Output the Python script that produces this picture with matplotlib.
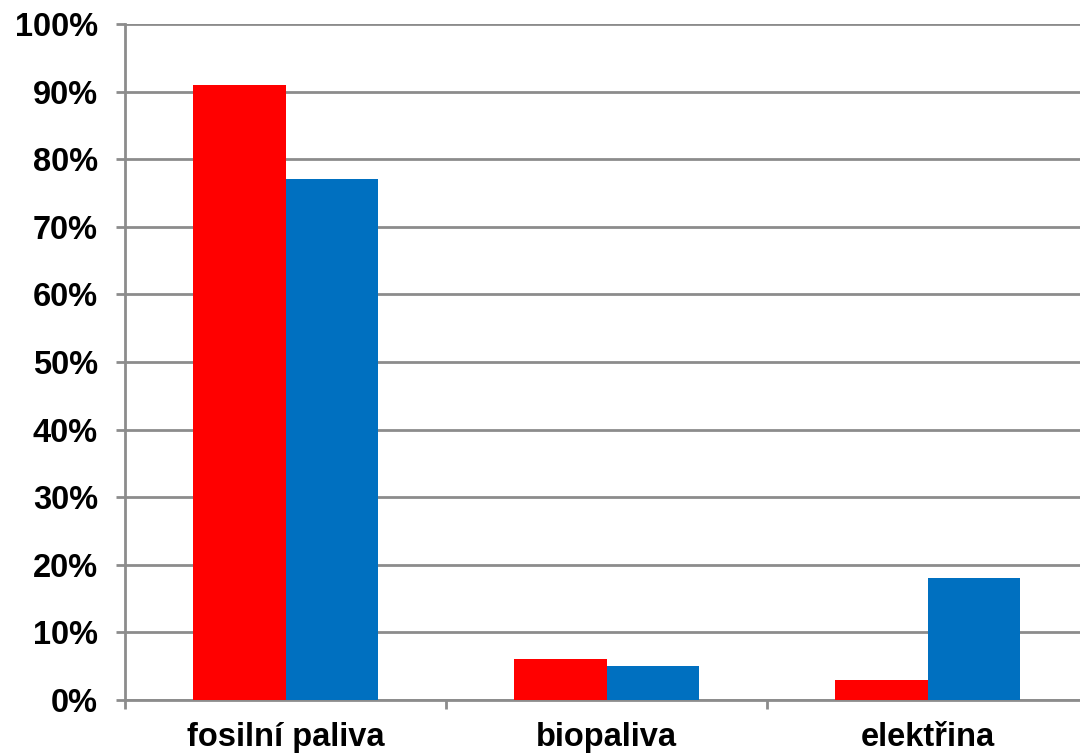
import matplotlib.pyplot as plt
import numpy as np
from matplotlib.ticker import PercentFormatter

categories = ["fosilní paliva", "biopaliva", "elektřina"]
series_red = [91, 6, 3]
series_blue = [77, 5, 18]
yticks = [0, 10, 20, 30, 40, 50, 60, 70, 80, 90, 100]

plt.rcParams["font.family"] = ["Liberation Sans", "DejaVu Sans"]

GRID = "#8c8c8c"

fig = plt.figure(figsize=(10.8, 7.54), dpi=100)
# right edge runs past the figure border like the reference
ax = fig.add_axes([125 / 1080, (754 - 700) / 754, 963 / 1080, 676 / 754])

x = np.arange(len(categories))
width = 0.287
ax.bar(x - width / 2, series_red, width, color="#ff0000", zorder=3)
ax.bar(x + width / 2, series_blue, width, color="#0070c0", zorder=3)

ax.set_xlim(-0.5, len(categories) - 0.5)
ax.set_ylim(0, 100)
ax.set_yticks(yticks)
ax.yaxis.set_major_formatter(PercentFormatter(decimals=0))

ax.set_xticks(x)
ax.set_xticklabels(categories)
ax.set_xticks(np.arange(len(categories) + 1) - 0.5, minor=True)

ax.grid(axis="y", color=GRID, linewidth=2, zorder=0)
for side in ["top", "right"]:
    ax.spines[side].set_visible(False)
for side in ["left", "bottom"]:
    ax.spines[side].set_color(GRID)
    ax.spines[side].set_linewidth(2)

ax.tick_params(axis="y", length=6.5, width=2, color=GRID, pad=13,
               labelsize=23.5)
for lab in ax.get_yticklabels():
    lab.set_fontweight("bold")
ax.tick_params(axis="x", which="major", length=0, pad=16, labelsize=23.5)
ax.tick_params(axis="x", which="minor", length=6.5, width=2, color=GRID)
for lab in ax.get_xticklabels():
    lab.set_fontweight("bold")

fig.savefig("out.png", dpi=100, facecolor="white")
